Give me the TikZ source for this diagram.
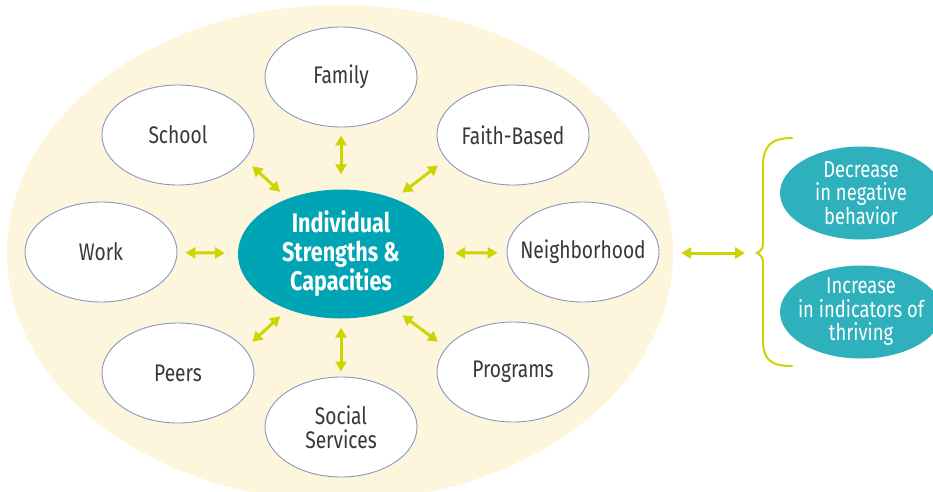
\documentclass[tikz,border=0pt]{standalone}
\usepackage{fontspec}
\setmainfont[FakeStretch=0.8]{Fira Sans}
\usepackage{xcolor}
\usepackage{tikz}
\usetikzlibrary{shapes.geometric,arrows.meta}
\definecolor{cream}{HTML}{FDF6DC}
\definecolor{teal}{HTML}{00A5B5}
\definecolor{lightteal}{HTML}{2EB1BD}
\definecolor{lime}{HTML}{CDD400}
\definecolor{rim}{HTML}{8797C0}
\definecolor{ink}{HTML}{383838}
\tikzset{
  field/.style={ellipse, fill=cream, minimum width=666pt, minimum height=496pt, inner sep=0pt},
  bubble/.style={ellipse, draw=rim, line width=0.9pt, fill=white, minimum width=152pt, minimum height=100pt,
    inner sep=-20pt, align=center, text=ink, font=\fontsize{24}{24}\selectfont},
  core/.style={ellipse, fill=teal, minimum width=206pt, minimum height=129pt, inner sep=0pt,
    align=center, text=white, font=\fontsize{27}{29}\selectfont\bfseries},
  outcome/.style={ellipse, fill=lightteal, minimum width=162pt, minimum height=93pt, inner sep=-20pt,
    align=center, text=white, font=\fontsize{23}{23.5}\selectfont},
  link/.style={draw=lime, line width=3pt, {Triangle[length=10pt,width=11pt]}-{Triangle[length=10pt,width=11pt]}},
  bracket/.style={draw=lime, line width=2pt, line cap=round},
}

\begin{document}
\begin{tikzpicture}[x=1pt,y=-1pt]
  \useasboundingbox[fill=white] (0,0) rectangle (933,491);
  \node[field] (area) at (340,253) {};

  \node[core] (core) at (341,254) {Individual\\Strengths \&\\Capacities};
  \node[bubble] (family) at (341,77) {Family};
  \node[bubble] (school) at (178,135) {School};
  \node[bubble] (faith) at (513,135) {Faith-Based};
  \node[bubble] (work) at (101,252) {Work};
  \node[bubble] (neigh) at (583,252) {Neighborhood};
  \node[bubble] (peers) at (178,373) {Peers};
  \node[bubble] (programs) at (513,372) {Programs};
  \node[bubble] (social) at (341,427) {Social\\Services};

  % spokes between the core and each setting
  \foreach \from/\to/\s/\e in {core/family/15/8, core/social/9/5, core/work/13/8, core/neigh/11/9,
      core.134/school.-20/10/10, core.46/faith.200/10/10,
      core.226/peers.20/10/10, core.-46/programs.160/10/10}
    \draw[link, shorten <=\s pt, shorten >=\e pt] (\from) -- (\to);

  \node[outcome] (decrease) at (861,193) {Decrease\\in negative\\behavior};
  \node[outcome] (increase) at (861,312) {Increase\\in indicators of\\thriving};

  % curly bracket round the outcomes
  \coordinate (tip) at (757,253);
  \draw[bracket] (792,138) .. controls (771,138) and (763,146) .. (763,166) -- (763,238)
    .. controls (763,249) .. (tip) .. controls (763,257) .. (763,268) -- (763,340)
    .. controls (763,360) and (771,366) .. (792,366);
  \draw[link, shorten <=8pt, shorten >=12pt] (area.east) -- (tip);
\end{tikzpicture}
\end{document}
